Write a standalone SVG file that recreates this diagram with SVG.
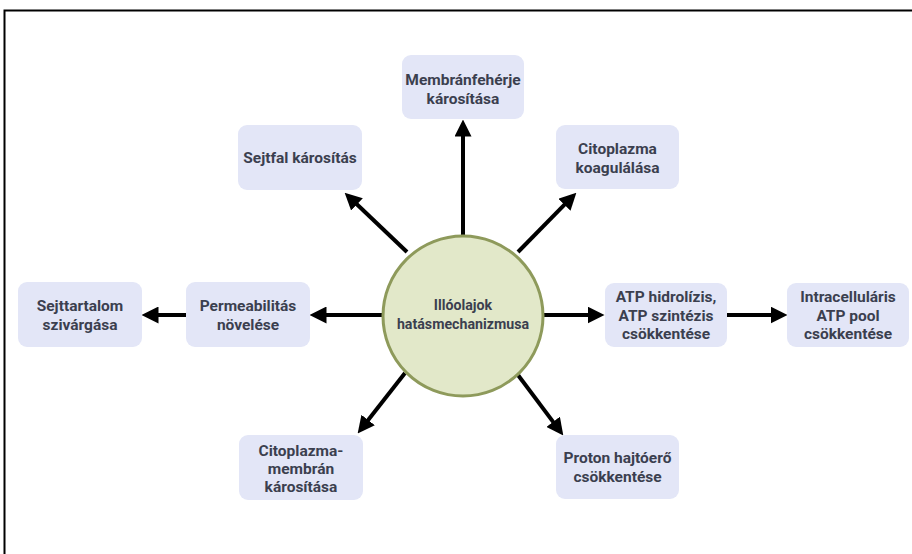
<svg xmlns="http://www.w3.org/2000/svg" width="912" height="554" viewBox="0 0 912 554">
<style>
.box{fill:#e3e6f7;}
.t{font-family:Roboto,"Liberation Sans",sans-serif;font-weight:bold;font-size:15.5px;fill:#3b3f4f;text-anchor:middle;}
.tc{font-size:14.2px;}
.c{stroke:#000;stroke-width:4;fill:none;marker-end:url(#ah);}
</style>
<defs>
<marker id="ah" viewBox="0 0 16 16" refX="8" refY="8" markerWidth="17" markerHeight="17" markerUnits="userSpaceOnUse" orient="auto">
<path d="M0,0 L16,8 L0,16 z" fill="#000"/>
</marker>
</defs>
<rect width="912" height="554" fill="#fff"/>
<path d="M4.5,554 V10.5 H912" fill="none" stroke="#000" stroke-width="2"/>
<g id="connectors">
<line class="c" x1="463" y1="236" x2="463" y2="128"/>
<line class="c" x1="518" y1="252" x2="570.4" y2="198.7"/>
<line class="c" x1="407" y1="252" x2="350.8" y2="198.5"/>
<line class="c" x1="383" y1="315" x2="318" y2="315"/>
<line class="c" x1="186" y1="315" x2="150" y2="315"/>
<line class="c" x1="543" y1="315" x2="596" y2="315"/>
<line class="c" x1="727" y1="315" x2="779" y2="315"/>
<line class="c" x1="405" y1="373" x2="362.9" y2="426.7"/>
<line class="c" x1="518" y1="375" x2="558.2" y2="428.6"/>
</g>
<g id="center">
<circle cx="463" cy="316" r="80" fill="#e2e8c9" stroke="#8e9a5b" stroke-width="3"/>
<text class="t tc" x="463" y="310">Illóolajok</text>
<text class="t tc" x="463" y="329">hatásmechanizmusa</text>
</g>
<g id="membranfeherje">
<rect class="box" x="402" y="55" width="122" height="64" rx="9"/>
<text class="t" x="463" y="85">Membránfehérje</text>
<text class="t" x="463" y="103.5">károsítása</text>
</g>
<g id="citoplazma-koagulalasa">
<rect class="box" x="556" y="125" width="123" height="64" rx="9"/>
<text class="t" x="617.5" y="154">Citoplazma</text>
<text class="t" x="617.5" y="172.5">koagulálása</text>
</g>
<g id="sejtfal">
<rect class="box" x="238" y="125" width="124" height="65" rx="9"/>
<text class="t" x="300" y="163">Sejtfal károsítás</text>
</g>
<g id="sejttartalom">
<rect class="box" x="18" y="282" width="124" height="65" rx="9"/>
<text class="t" x="80" y="311">Sejttartalom</text>
<text class="t" x="80" y="329.5">szivárgása</text>
</g>
<g id="permeabilitas">
<rect class="box" x="186" y="282" width="124" height="65" rx="9"/>
<text class="t" x="248" y="311">Permeabilitás</text>
<text class="t" x="248" y="329.5">növelése</text>
</g>
<g id="atp-hidrolizis">
<rect class="box" x="605" y="283" width="122" height="64" rx="9"/>
<text class="t" x="666" y="302">ATP hidrolízis,</text>
<text class="t" x="666" y="320.5">ATP szintézis</text>
<text class="t" x="666" y="339">csökkentése</text>
</g>
<g id="intracellularis">
<rect class="box" x="787" y="283" width="122" height="64" rx="9"/>
<text class="t" x="848" y="302">Intracelluláris</text>
<text class="t" x="848" y="320.5">ATP pool</text>
<text class="t" x="848" y="339">csökkentése</text>
</g>
<g id="citoplazmamembran">
<rect class="box" x="239" y="435" width="124" height="65" rx="9"/>
<text class="t" x="301" y="456">Citoplazma-</text>
<text class="t" x="301" y="474">membrán</text>
<text class="t" x="301" y="492">károsítása</text>
</g>
<g id="proton">
<rect class="box" x="556" y="435" width="123" height="64" rx="9"/>
<text class="t" x="617.5" y="463">Proton hajtóerő</text>
<text class="t" x="617.5" y="482">csökkentése</text>
</g>
</svg>
